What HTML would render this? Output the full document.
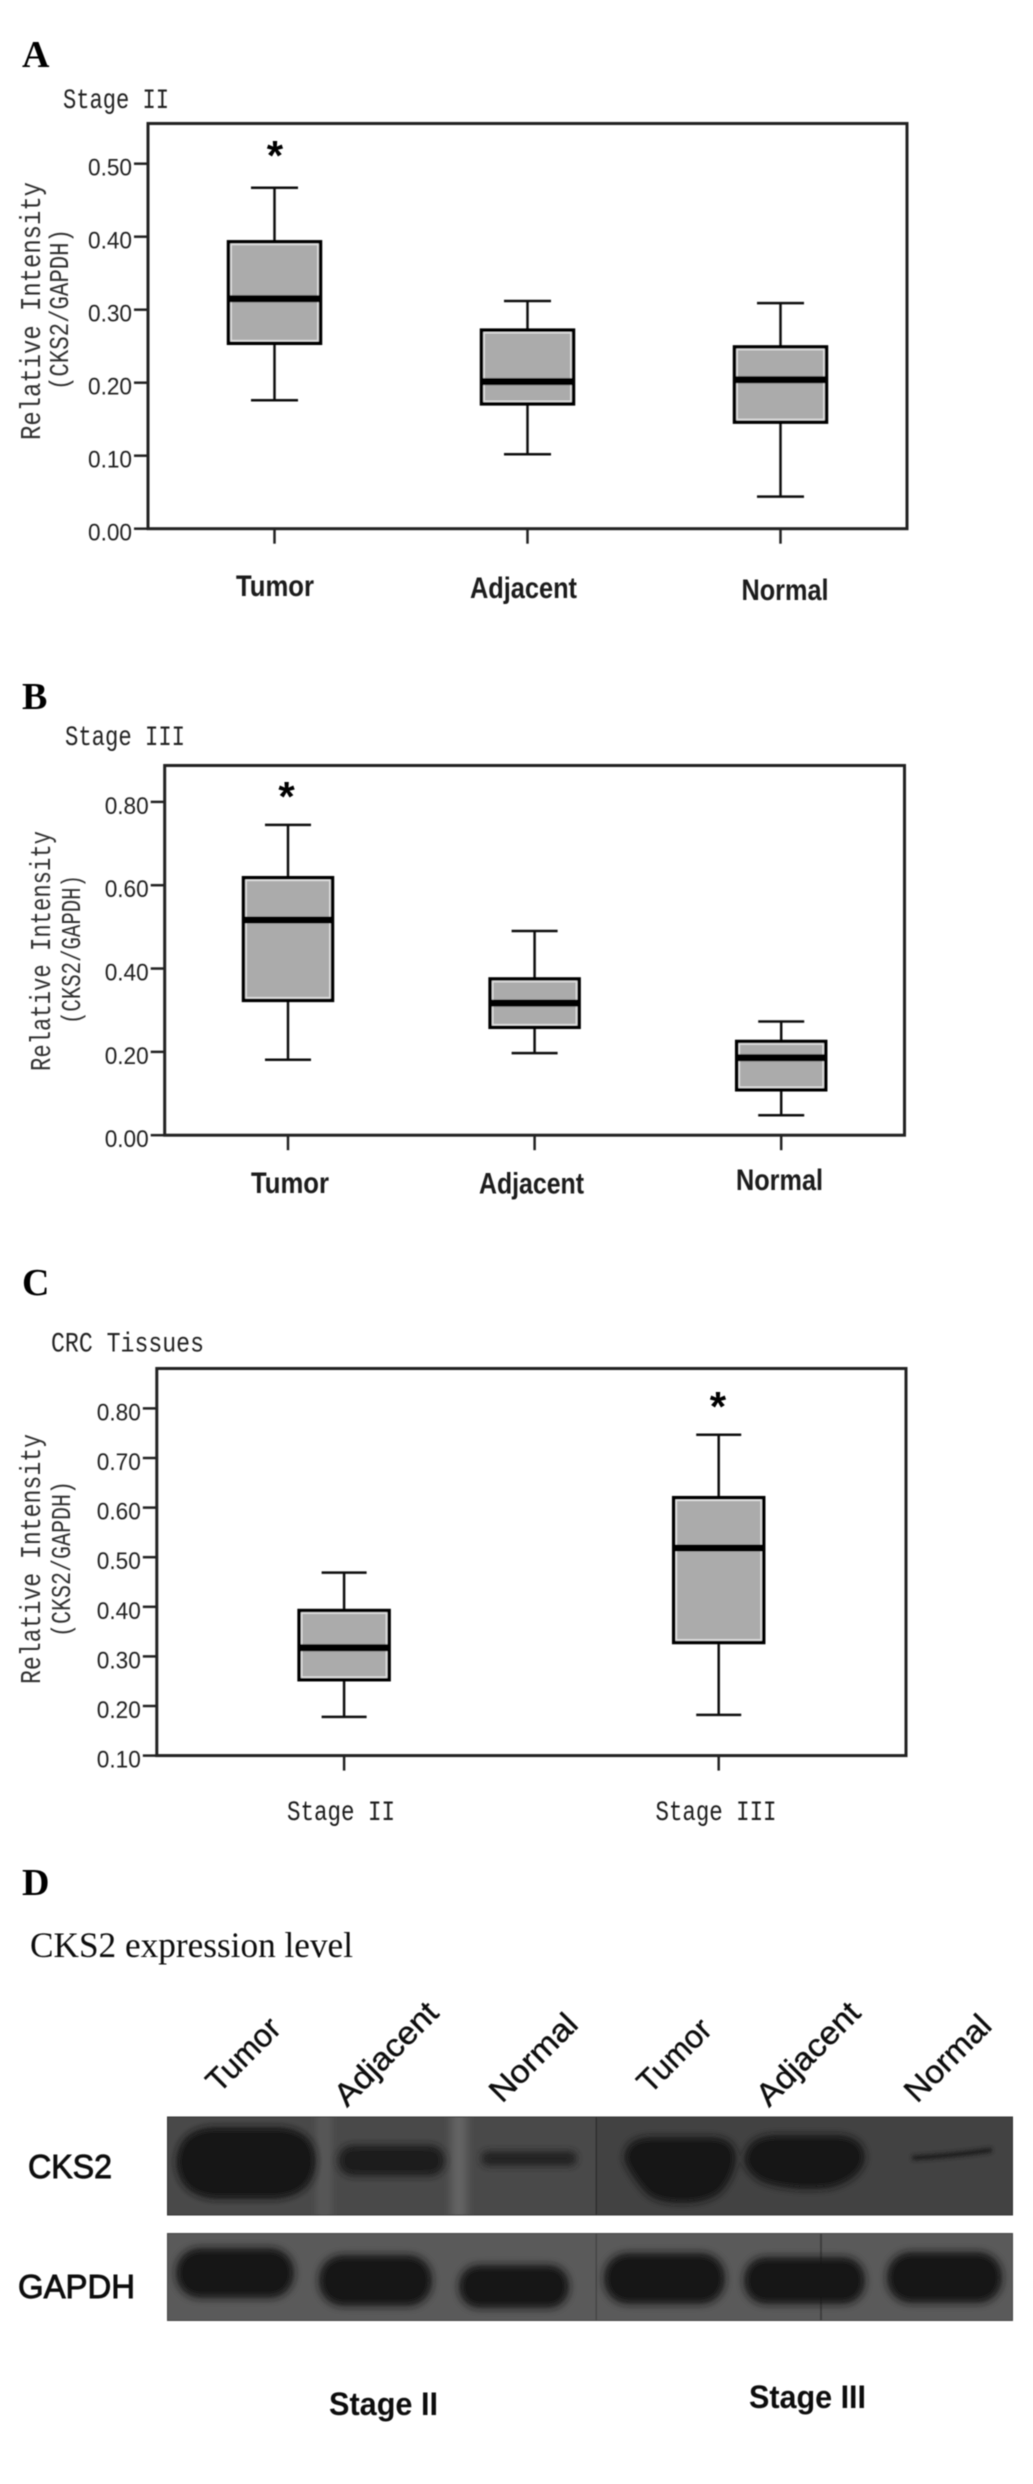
<!DOCTYPE html>
<html lang="en">
<head>
<meta charset="utf-8">
<title>CKS2 relative intensity box plots and western blot</title>
<style>
  html, body { margin: 0; padding: 0; background: #fff; }
  svg { display: block; }
  .sans { font-family: "Liberation Sans", sans-serif; }
  .serif { font-family: "Liberation Serif", serif; }
  .mono { font-family: "Liberation Mono", monospace; }
</style>
</head>
<body>
<svg id="fig" xmlns="http://www.w3.org/2000/svg" width="1033" height="2484" viewBox="0 0 1033 2484">
  <defs>
    <filter id="soft" x="-2%" y="-2%" width="104%" height="104%"><feGaussianBlur stdDeviation="0.45"/></filter>
    <filter id="bandBlur" filterUnits="userSpaceOnUse" x="150" y="2090" width="880" height="250"><feGaussianBlur stdDeviation="4"/></filter>
    <filter id="faintBlur" filterUnits="userSpaceOnUse" x="880" y="2120" width="140" height="70"><feGaussianBlur stdDeviation="2.2"/></filter>
    <filter id="laneBlur" filterUnits="userSpaceOnUse" x="150" y="2090" width="880" height="250"><feGaussianBlur stdDeviation="5"/></filter>
    <clipPath id="row1Clip"><rect x="167" y="2117" width="846" height="98"/></clipPath>
    <clipPath id="row2Clip"><rect x="167" y="2233" width="846" height="88"/></clipPath>
  </defs>
  <rect x="0" y="0" width="1033" height="2484" fill="#ffffff"/>

  <g id="charts" filter="url(#soft)"></g>

  <g filter="url(#soft)">
    <text class="serif" x="22" y="1895" font-size="38" font-weight="700" fill="#000">D</text>
    <text class="serif" x="30" y="1957" font-size="36" fill="#111" textLength="323" lengthAdjust="spacingAndGlyphs">CKS2 expression level</text>

    <g class="sans" font-size="32" fill="#111" stroke="#111" stroke-width="0.4">
      <text transform="translate(219 2094) rotate(-45)" textLength="90" lengthAdjust="spacingAndGlyphs">Tumor</text>
      <text transform="translate(347 2108) rotate(-45)" textLength="132" lengthAdjust="spacingAndGlyphs">Adjacent</text>
      <text transform="translate(502 2104) rotate(-45)" textLength="110" lengthAdjust="spacingAndGlyphs">Normal</text>
      <text transform="translate(650 2095) rotate(-45)" textLength="90" lengthAdjust="spacingAndGlyphs">Tumor</text>
      <text transform="translate(769 2108) rotate(-45)" textLength="132" lengthAdjust="spacingAndGlyphs">Adjacent</text>
      <text transform="translate(917 2104) rotate(-45)" textLength="108" lengthAdjust="spacingAndGlyphs">Normal</text>
    </g>

    <text class="sans" x="28" y="2178" font-size="33" fill="#111" stroke="#111" stroke-width="0.9" textLength="84" lengthAdjust="spacingAndGlyphs">CKS2</text>
    <text class="sans" x="18" y="2298" font-size="33" fill="#111" stroke="#111" stroke-width="0.9" textLength="117" lengthAdjust="spacingAndGlyphs">GAPDH</text>

    <g clip-path="url(#row1Clip)">
      <rect x="167" y="2117" width="846" height="98" fill="#434343"/>
      <rect x="167" y="2117" width="429" height="98" fill="#4a4a4a"/>
      <rect x="318" y="2105" width="12" height="125" fill="#5c5c5c" filter="url(#laneBlur)"/>
      <rect x="452" y="2105" width="14" height="125" fill="#676767" filter="url(#laneBlur)"/>
      <rect x="595.5" y="2117" width="1.5" height="98" fill="#2e2e2e"/>
      <g fill="#141414" filter="url(#bandBlur)">
        <path d="M176 2162 Q178 2128 215 2127 H280 Q316 2130 316 2162 Q314 2196 275 2199 H215 Q178 2196 176 2162 Z"/>
        <rect x="338" y="2145" width="107" height="31" rx="15" fill="#1e1e1e"/>
        <rect x="481" y="2151" width="96" height="15" rx="7" fill="#222222"/>
        <path d="M624 2160 Q624 2138 650 2137 H712 Q737 2138 736 2160 Q734 2178 720 2193 Q705 2204 680 2203 Q655 2203 645 2192 Q630 2175 624 2160 Z"/>
        <path d="M744 2160 Q746 2136 775 2135 H840 Q866 2138 865 2160 Q860 2180 830 2188 Q790 2192 762 2182 Q745 2172 744 2160 Z"/>
      </g>
      <path d="M912 2158 Q950 2156 992 2150" stroke="#1d1d1d" stroke-width="5" fill="none" filter="url(#faintBlur)"/>
    </g>
    <rect x="167.5" y="2117" width="845" height="98" fill="none" stroke="#333" stroke-width="1"/>

    <g clip-path="url(#row2Clip)">
      <rect x="167" y="2233" width="846" height="88" fill="#5a5a5a"/>
      <rect x="595.5" y="2233" width="1.5" height="88" fill="#444"/>
      <rect x="820" y="2233" width="2" height="88" fill="#3e3e3e"/>
      <g fill="#141414" filter="url(#bandBlur)">
        <rect x="176" y="2248" width="118" height="50" rx="24"/>
        <rect x="319" y="2255" width="113" height="51" rx="24"/>
        <rect x="459" y="2265" width="110" height="43" rx="20"/>
        <rect x="604" y="2253" width="121" height="51" rx="24"/>
        <rect x="744" y="2257" width="121" height="47" rx="22"/>
        <rect x="887" y="2252" width="115" height="51" rx="24"/>
      </g>
    </g>
    <rect x="167.5" y="2233.5" width="845" height="87" fill="none" stroke="#444" stroke-width="1"/>

    <text class="sans" x="329" y="2415" font-size="32" font-weight="700" fill="#111" textLength="109" lengthAdjust="spacingAndGlyphs">Stage II</text>
    <text class="sans" x="749" y="2408" font-size="32" font-weight="700" fill="#111" textLength="117" lengthAdjust="spacingAndGlyphs">Stage III</text>
  </g>
</svg>

<script>
/* Panel A - Stage II */
const categoriesA = ['Tumor', 'Adjacent', 'Normal'];
const whiskerHighA = [0.467, 0.312, 0.309];
const q3A = [0.393, 0.272, 0.249];
const medianA = [0.315, 0.2015, 0.204];
const q1A = [0.254, 0.171, 0.146];
const whiskerLowA = [0.176, 0.102, 0.044];
const yTicksA = [0.00, 0.10, 0.20, 0.30, 0.40, 0.50];

/* Panel B - Stage III */
const categoriesB = ['Tumor', 'Adjacent', 'Normal'];
const whiskerHighB = [0.745, 0.49, 0.273];
const q3B = [0.618, 0.375, 0.225];
const medianB = [0.5166, 0.317, 0.186];
const q1B = [0.3236, 0.259, 0.109];
const whiskerLowB = [0.181, 0.197, 0.048];
const yTicksB = [0.00, 0.20, 0.40, 0.60, 0.80];

/* Panel C - CRC tissues */
const categoriesC = ['Stage II', 'Stage III'];
const whiskerHighC = [0.469, 0.747];
const q3C = [0.3925, 0.62];
const medianC = [0.3175, 0.5185];
const q1C = [0.253, 0.328];
const whiskerLowC = [0.178, 0.182];
const yTicksC = [0.10, 0.20, 0.30, 0.40, 0.50, 0.60, 0.70, 0.80];

const svgNS = 'http://www.w3.org/2000/svg';
const chartsRoot = document.getElementById('charts');

function make(parent, tag, name, attrs, text) {
  const el = document.createElementNS(svgNS, tag);
  
  
  for (const key in attrs) el.setAttribute(key, attrs[key]);
  if (text !== undefined) el.textContent = text;
  parent.appendChild(el);
  return el;
}

function linearScale(d0, d1, r0, r1) {
  return function (v) { return r0 + (v - d0) * (r1 - r0) / (d1 - d0); };
}

function drawPanel(p) {
  const g = make(chartsRoot, 'g', 'panel-' + p.id, {});
  const y = linearScale(p.domain[0], p.domain[1], p.bottom, p.domainTop);
  const band = (p.right - p.left) / p.categories.length;
  const x = function (i) { return p.left + (i + 0.5) * band; };

  make(g, 'text', 'panel-letter-' + p.id, { class: 'serif', x: p.letter[0], y: p.letter[1], 'font-size': 38, 'font-weight': 700, fill: '#000' }, p.id.toUpperCase());
  make(g, 'text', 'chart-title-' + p.id, { class: 'mono', x: p.title[1], y: p.title[2], 'font-size': 28, fill: '#222', textLength: p.title[3], lengthAdjust: 'spacingAndGlyphs' }, p.title[0]);

  make(g, 'text', 'y-axis-title-' + p.id, { class: 'mono', transform: 'translate(' + p.yTitle[0] + ' ' + p.yTitle[1] + ') rotate(-90)', 'font-size': 29, fill: '#333', textLength: p.yTitle[2], lengthAdjust: 'spacingAndGlyphs' }, 'Relative Intensity');
  make(g, 'text', 'y-axis-subtitle-' + p.id, { class: 'mono', transform: 'translate(' + p.ySub[0] + ' ' + p.ySub[1] + ') rotate(-90)', 'font-size': 27, fill: '#333', textLength: p.ySub[2], lengthAdjust: 'spacingAndGlyphs' }, '(CKS2/GAPDH)');

  make(g, 'rect', 'plot-frame-' + p.id, { x: p.left, y: p.top, width: p.right - p.left, height: p.bottom - p.top, fill: 'none', stroke: '#222', 'stroke-width': 3 });

  p.ticks.forEach(function (t) {
    const ty = y(t);
    const label = t.toFixed(2);
    make(g, 'line', 'y-tick-' + p.id + '-' + label, { x1: p.left - 14, x2: p.left, y1: ty, y2: ty, stroke: '#222', 'stroke-width': 2.5 });
    make(g, 'text', 'y-tick-label-' + p.id + '-' + label, { class: 'sans', x: p.left - 60, y: ty + 12, 'font-size': 24, fill: '#222', textLength: 44, lengthAdjust: 'spacingAndGlyphs' }, label);
  });

  p.categories.forEach(function (cat, i) {
    const cx = x(i);
    const key = p.id + '-' + cat.toLowerCase().replace(/\s+/g, '-');
    const top = y(p.q3[i]);
    const bottom = y(p.q1[i]);
    const halfBox = p.halfBox;
    const halfCap = p.halfCap;

    make(g, 'line', 'x-tick-' + key, { x1: cx, x2: cx, y1: p.bottom, y2: p.bottom + 15, stroke: '#222', 'stroke-width': 2.5 });
    make(g, 'line', 'whisker-upper-' + key, { x1: cx, x2: cx, y1: y(p.high[i]), y2: top, stroke: '#111', 'stroke-width': 2.5 });
    make(g, 'line', 'whisker-lower-' + key, { x1: cx, x2: cx, y1: bottom, y2: y(p.low[i]), stroke: '#111', 'stroke-width': 2.5 });
    make(g, 'line', 'whisker-cap-upper-' + key, { x1: cx - halfCap, x2: cx + halfCap, y1: y(p.high[i]), y2: y(p.high[i]), stroke: '#111', 'stroke-width': 2.5 });
    make(g, 'line', 'whisker-cap-lower-' + key, { x1: cx - halfCap, x2: cx + halfCap, y1: y(p.low[i]), y2: y(p.low[i]), stroke: '#111', 'stroke-width': 2.5 });
    make(g, 'rect', 'box-' + key, { x: cx - halfBox, y: top, width: halfBox * 2, height: bottom - top, fill: '#ababab', stroke: '#000', 'stroke-width': 3.5 });
    make(g, 'rect', 'box-highlight-' + key, { x: cx - halfBox + 2.6, y: top + 2.6, width: halfBox * 2 - 5.2, height: bottom - top - 5.2, fill: 'none', stroke: '#e4e4e4', 'stroke-width': 1.5 });
    make(g, 'line', 'median-' + key, { x1: cx - halfBox, x2: cx + halfBox, y1: y(p.median[i]), y2: y(p.median[i]), stroke: '#000', 'stroke-width': 7 });

    const lab = p.labels[i];
    make(g, 'text', 'x-label-' + key, { class: p.labelClass, x: lab[0] - lab[2] / 2, y: lab[1], 'font-size': p.labelSize, 'font-weight': p.labelWeight, fill: '#1a1a1a', textLength: lab[2], lengthAdjust: 'spacingAndGlyphs' }, cat);
  });

  make(g, 'text', 'significance-star-' + p.id, { class: 'sans', x: p.star[0] - 8.2, y: p.star[1] + 20, 'font-size': 42, 'font-weight': 700, fill: '#000' }, '*');
}

drawPanel({
  id: 'a', categories: categoriesA, high: whiskerHighA, q3: q3A, median: medianA, q1: q1A, low: whiskerLowA, ticks: yTicksA,
  domain: [0, 0.5], domainTop: 163.7, left: 148, right: 907, top: 123.5, bottom: 528.7,
  halfBox: 46, halfCap: 23.5, letter: [22, 67], title: ['Stage II', 63, 108, 106],
  yTitle: [40, 440, 258], ySub: [68, 390, 161], star: [275, 150],
  labels: [[275, 596, 78], [523.5, 598, 107], [785, 600, 87]], labelClass: 'sans', labelSize: 30, labelWeight: 700
});

drawPanel({
  id: 'b', categories: categoriesB, high: whiskerHighB, q3: q3B, median: medianB, q1: q1B, low: whiskerLowB, ticks: yTicksB,
  domain: [0, 0.8], domainTop: 801.9, left: 164.7, right: 904.5, top: 765.5, bottom: 1135.2,
  halfBox: 44.5, halfCap: 23, letter: [22, 709], title: ['Stage III', 65, 745, 120],
  yTitle: [50, 1071, 240], ySub: [80, 1024, 149], star: [286.6, 791],
  labels: [[290, 1193, 78], [531.5, 1193.3, 105], [779.5, 1190, 87]], labelClass: 'sans', labelSize: 30, labelWeight: 700
});

drawPanel({
  id: 'c', categories: categoriesC, high: whiskerHighC, q3: q3C, median: medianC, q1: q1C, low: whiskerLowC, ticks: yTicksC,
  domain: [0.1, 0.8], domainTop: 1408.4, left: 156.8, right: 906, top: 1368.5, bottom: 1755.6,
  halfBox: 45, halfCap: 22.5, letter: [22, 1295], title: ['CRC Tissues', 51, 1351.5, 153],
  yTitle: [40, 1684, 250], ySub: [70, 1637, 156], star: [718, 1401],
  labels: [[341, 1820, 108], [716, 1820, 121]], labelClass: 'mono', labelSize: 28, labelWeight: 400
});
</script>
</body>
</html>
